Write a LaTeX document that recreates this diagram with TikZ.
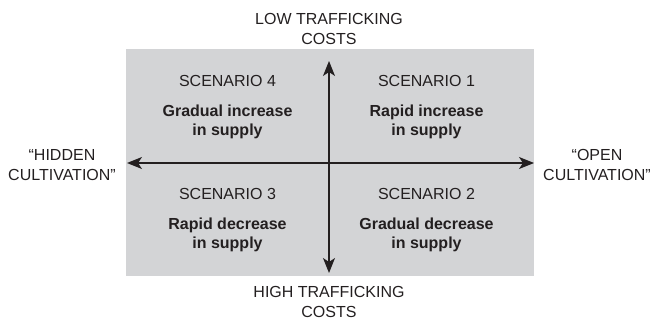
\documentclass[tikz,border=0pt]{standalone}
\usepackage{fontspec}
\setmainfont{Liberation Sans}
\usetikzlibrary{arrows.meta}
\definecolor{panelgray}{RGB}{211,212,214}
\definecolor{inkgray}{RGB}{35,31,32}
\tikzset{
  axislabel/.style={align=center, font=\fontsize{16}{19.5}\selectfont, text=inkgray, inner sep=0pt},
  scenlabel/.style={font=\fontsize{16}{19.5}\selectfont, text=inkgray, inner sep=0pt},
  scentext/.style={align=center, font=\fontsize{16}{19}\selectfont\bfseries, text=inkgray, inner sep=0pt},
  axisarrow/.style={draw=inkgray, line width=1.3pt, {Stealth[length=15pt,width=12pt,inset=4pt]}-{Stealth[length=15pt,width=12pt,inset=4pt]}},
}
\begin{document}
\begin{tikzpicture}[x=1pt,y=-1pt]
\useasboundingbox (0,0) rectangle (652,320);
\node[fill=panelgray, minimum width=408pt, minimum height=227pt, inner sep=0pt, anchor=north west] (panel) at (126,49) {};
\coordinate (left) at (127,163);
\coordinate (right) at (534,163);
\coordinate (top) at (329,61);
\coordinate (bottom) at (329,273);
\draw[axisarrow] (left) -- (right);
\draw[axisarrow] (bottom) -- (top);
\node[axislabel] (low) at (329,29) {LOW TRAFFICKING\\COSTS};
\node[axislabel] (high) at (329,302) {HIGH TRAFFICKING\\COSTS};
\node[axislabel] (hidden) at (62,165) {“HIDDEN\\CULTIVATION”};
\node[axislabel] (open) at (597,165) {“OPEN\\CULTIVATION”};
\node[scenlabel] (s4) at (227.5,81) {SCENARIO 4};
\node[scentext] (t4) at (227.5,122) {Gradual increase\\in supply};
\node[scenlabel] (s1) at (426.5,81) {SCENARIO 1};
\node[scentext] (t1) at (426.5,122) {Rapid increase\\in supply};
\node[scenlabel] (s3) at (227.5,193.5) {SCENARIO 3};
\node[scentext] (t3) at (227.5,235) {Rapid decrease\\in supply};
\node[scenlabel] (s2) at (426.5,193.5) {SCENARIO 2};
\node[scentext] (t2) at (426.5,235) {Gradual decrease\\in supply};
\end{tikzpicture}
\end{document}
